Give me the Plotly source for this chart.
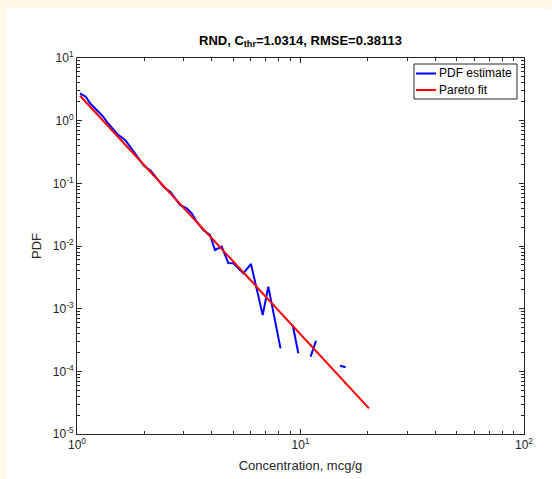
import plotly.graph_objects as go

# PDF estimate (gaps = zero-density bins, not drawn on log scale)
pdf_x = [1.031, 1.094, 1.152, 1.212, 1.298, 1.367, 1.514, 1.652, 1.739, 1.994,
         2.137, 2.287, 2.451, 2.626, 2.890, 3.096, 3.261, 3.433, 3.673, 3.936,
         4.144, 4.441, 4.753, 5.005, 5.548, 6.004, 6.774, 7.177, 8.139, None,
         9.228, 9.777, None, 11.10, 11.73, None, 15.02, 15.93]
pdf_y = [2.733, 2.413, 1.845, 1.535, 1.200, 0.942, 0.613, 0.479, 0.376, 0.191,
         0.159, 0.1173, 0.0865, 0.0719, 0.0451, 0.0400, 0.0333, 0.0244, 0.0180, 0.0150,
         0.00864, 0.00975, 0.00536, 0.00530, 0.00367, 0.00516, 0.000793, 0.002244, 0.000232, None,
         0.000549, 0.000194, None, 0.0001714, 0.000308, None, 0.0001230, 0.0001161]

# Pareto fit (straight line in log-log)
fit_x = [1.0314, 20.25]
fit_y = [2.50, 2.57e-5]

series_names = ["PDF estimate", "Pareto fit"]
series_colors = ["#0000ff", "#ff0000"]

title_text = "<b>RND, C<sub>thr</sub>=1.0314, RMSE=0.38113</b>"
x_label = "Concentration, mcg/g"
y_label = "PDF"
x_ticks = [1, 10, 100]
x_ticktext = ["10<sup>0</sup>", "10<sup>1</sup>", "10<sup>2</sup>"]
y_ticks = [1e-5, 1e-4, 1e-3, 1e-2, 1e-1, 1, 10]
y_ticktext = ["10<sup>-5</sup>", "10<sup>-4</sup>", "10<sup>-3</sup>", "10<sup>-2</sup>",
              "10<sup>-1</sup>", "10<sup>0</sup>", "10<sup>1</sup>"]

CREAM = "#fef9e6"

fig = go.Figure()
fig.add_trace(go.Scatter(x=pdf_x, y=pdf_y, mode="lines", name=series_names[0],
                         line=dict(color=series_colors[0], width=2), connectgaps=False,
                         showlegend=False))
fig.add_trace(go.Scatter(x=fit_x, y=fit_y, mode="lines", name=series_names[1],
                         line=dict(color=series_colors[1], width=2), showlegend=False))

OFF = 8  # page offset of the figure div
PAGE_W, PAGE_H = 552, 479
W, H = PAGE_W - OFF, PAGE_H - OFF
# plot box in page pixels: x 77..524, y 58..434
L = 77 - OFF
T = 58 - OFF
R = W - (524 - OFF)
B = H - (434 - OFF)
pw, ph = W - L - R, H - T - B


def px_x(p):
    return (p - OFF - L) / pw


def px_y(p):
    return (H - B - (p - OFF)) / ph


axis_common = dict(
    type="log", showgrid=False, zeroline=False, showline=True, linecolor="#262626",
    linewidth=1, mirror="ticks", ticks="inside", ticklen=5, tickcolor="#262626",
    automargin=False,
    tickfont=dict(family="Liberation Sans, Arial", size=12, color="#262626"),
    minor=dict(ticks="inside", ticklen=3, tickcolor="#262626", showgrid=False, dtick="D1"),
)

shapes = [dict(type="rect", xref="paper", yref="paper",
               x0=px_x(414), x1=px_x(517), y0=px_y(99), y1=px_y(64),
               fillcolor="white", line=dict(color="#262626", width=1))]
annotations = []
for i, (nm, col) in enumerate(zip(series_names, series_colors)):
    yy = 73.5 + i * 16.5
    shapes.append(dict(type="line", xref="paper", yref="paper",
                       x0=px_x(416), x1=px_x(436), y0=px_y(yy), y1=px_y(yy),
                       line=dict(color=col, width=2)))
    annotations.append(dict(text=nm, xref="paper", yref="paper", x=px_x(437), y=px_y(yy),
                            xanchor="left", yanchor="middle", showarrow=False,
                            font=dict(size=12, color="#000000",
                                      family="Liberation Sans, Arial")))

fig.update_layout(
    width=W, height=H,
    margin=dict(l=L, r=R, t=T, b=B),
    paper_bgcolor="white", plot_bgcolor="white",
    font=dict(family="Liberation Sans, Arial", color="#262626"),
    title=dict(text=title_text, x=(L + pw / 2) / W, xanchor="center",
               y=1 - (40 - OFF) / H, yanchor="middle",
               font=dict(size=13, color="#000000")),
    xaxis=dict(range=[0, 2], tickvals=x_ticks, ticktext=x_ticktext,
               title=dict(text=x_label, font=dict(size=13), standoff=9), **axis_common),
    yaxis=dict(range=[-5, 1], tickvals=y_ticks, ticktext=y_ticktext,
               title=dict(text=y_label, font=dict(size=13), standoff=8), **axis_common),
    showlegend=False,
    shapes=shapes,
    annotations=annotations,
)

bg_img = ("linear-gradient(to right, {c} 6px, rgba(255,255,255,0) 6px), "
          "linear-gradient(to bottom, {c} 9px, rgba(255,255,255,0) 9px)").format(c=CREAM)
post = (
    "var h=document.documentElement, b=document.body;"
    "b.style.background='transparent';b.style.overflow='hidden';h.style.overflow='hidden';"
    "h.style.backgroundColor='#ffffff';"
    "h.style.backgroundImage='%s';"
    "h.style.backgroundRepeat='no-repeat';"
    "h.style.backgroundSize='100vw 100vh';"
) % bg_img
fig.write_html("out.html", post_script=post)
